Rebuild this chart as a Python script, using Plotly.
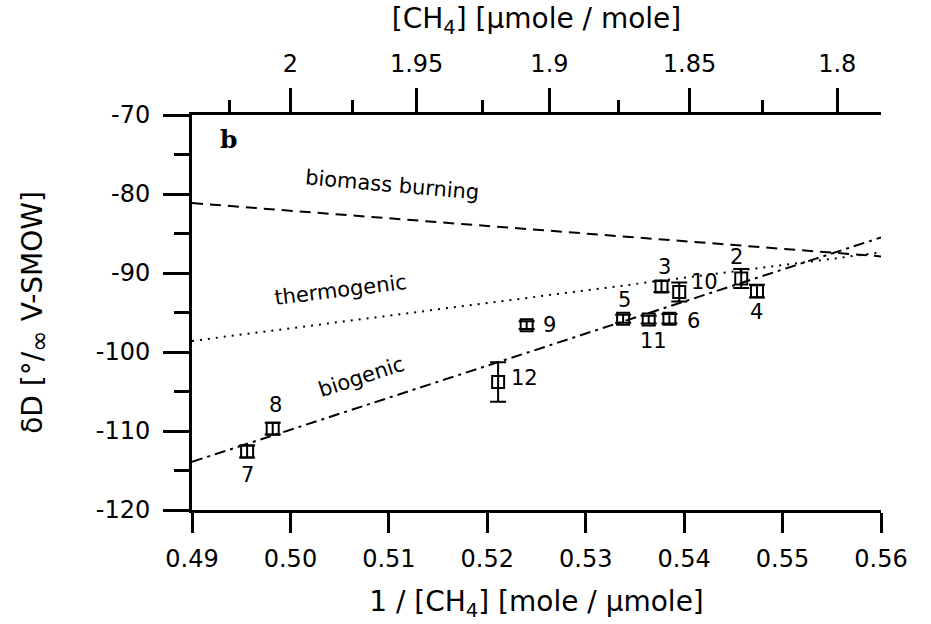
import plotly.graph_objects as go

# ---------------- data ----------------
sample_ids = ["2", "3", "4", "5", "6", "7", "8", "9", "10", "11", "12"]
inv_ch4 = [0.5458, 0.5377, 0.5474, 0.5338, 0.5385, 0.4956, 0.4982, 0.5240, 0.5395, 0.5364, 0.5211]
delta_d = [-90.7, -91.7, -92.3, -95.8, -95.8, -112.6, -109.7, -96.6, -92.4, -95.9, -103.8]
delta_d_err = [1.2, 0.7, 0.8, 0.5, 0.6, 0.75, 0.75, 0.5, 1.2, 0.5, 2.5]

mix_x = [0.49, 0.56]
biomass_line = [-81.15, -87.9]
thermogenic_line = [-98.6, -87.4]
biogenic_line = [-113.9, -85.5]

bottom_ticks = [0.49, 0.50, 0.51, 0.52, 0.53, 0.54, 0.55, 0.56]
bottom_labels = ["0.49", "0.50", "0.51", "0.52", "0.53", "0.54", "0.55", "0.56"]
top_ticks = [2.0, 1.95, 1.9, 1.85, 1.8]
top_labels = ["2", "1.95", "1.9", "1.85", "1.8"]
top_minor = [2.025, 1.975, 1.925, 1.875, 1.825]
y_ticks = [-70, -80, -90, -100, -110, -120]
y_labels = ["-70", "-80", "-90", "-100", "-110", "-120"]
y_minor = [-75, -85, -95, -105, -115]

# label offsets (pixels) of the sample numbers relative to their points
label_dx = [-5, 3, 0, 1, 24, 0, 3, 23, 25, 5, 26]
label_dy = [22, 19, -21, 19, -2, -23, 24, 0, 10, -21, 4]

FONT = "DejaVu Sans"

fig = go.Figure()

fig.add_trace(go.Scatter(x=mix_x, y=biomass_line, mode="lines",
                         line=dict(color="black", width=2, dash="11px,7px"),
                         showlegend=False, hoverinfo="skip"))
fig.add_trace(go.Scatter(x=mix_x, y=thermogenic_line, mode="lines",
                         line=dict(color="black", width=2, dash="2px,6px"),
                         showlegend=False, hoverinfo="skip"))
fig.add_trace(go.Scatter(x=mix_x, y=biogenic_line, mode="lines",
                         line=dict(color="black", width=2, dash="11px,5px,3px,5px"),
                         showlegend=False, hoverinfo="skip"))

fig.add_trace(go.Scatter(
    x=inv_ch4, y=delta_d, mode="markers",
    marker=dict(symbol="square-open", size=12, color="black", line=dict(width=2, color="black")),
    error_y=dict(type="data", array=delta_d_err, color="black", thickness=2, width=8),
    showlegend=False))

# invisible trace so the top axis is drawn
fig.add_trace(go.Scatter(x=mix_x, y=[-120, -120], xaxis="x2", mode="markers",
                         marker=dict(opacity=0), showlegend=False, hoverinfo="skip"))

for sid, xv, yv, dx, dy in zip(sample_ids, inv_ch4, delta_d, label_dx, label_dy):
    fig.add_annotation(x=xv, y=yv, text=sid, showarrow=False, xshift=dx, yshift=dy,
                       font=dict(family=FONT, size=21, color="black"))

fig.add_annotation(x=0.4937, y=-73.1, text="<b>b</b>", showarrow=False,
                   font=dict(family="DejaVu Serif", size=25, color="black"))
fig.add_annotation(x=0.5104, y=-78.8, text="biomass burning", showarrow=False, textangle=5,
                   font=dict(family=FONT, size=21, color="black"))
fig.add_annotation(x=0.5051, y=-92.1, text="thermogenic", showarrow=False, textangle=-7,
                   font=dict(family=FONT, size=21, color="black"))
fig.add_annotation(x=0.5072, y=-103.2, text="biogenic", showarrow=False, textangle=-18,
                   font=dict(family=FONT, size=21, color="black"))

axis_common = dict(showgrid=False, zeroline=False, showline=True, linewidth=3, linecolor="black",
                   ticks="outside", tickwidth=2.5, tickcolor="black",
                   tickfont=dict(family=FONT, size=24, color="black"))

fig.update_layout(
    width=931, height=624,
    margin=dict(l=192, r=50, t=115, b=110),
    paper_bgcolor="white", plot_bgcolor="white",
    xaxis=dict(range=[0.49, 0.56], tickmode="array", tickvals=bottom_ticks, ticktext=bottom_labels,
               ticklen=20, ticklabelstandoff=5,
               title=dict(text="1 / [CH<sub>4</sub>] [mole / µmole]", standoff=20,
                          font=dict(family=FONT, size=28, color="black")),
               **axis_common),
    xaxis2=dict(range=[0.49, 0.56], overlaying="x", side="top", anchor="y",
                tickmode="array", tickvals=[1 / c for c in top_ticks], ticktext=top_labels,
                ticklen=24, ticklabelstandoff=6,
                minor=dict(tickmode="array", tickvals=[1 / c for c in top_minor], ticklen=12,
                           ticks="outside", tickwidth=2.5, tickcolor="black"),
                title=dict(text="[CH<sub>4</sub>] [µmole / mole]", standoff=14,
                           font=dict(family=FONT, size=28, color="black")),
                **axis_common),
    yaxis=dict(range=[-120, -70], tickmode="array", tickvals=y_ticks, ticktext=y_labels,
               ticklen=26, ticklabelstandoff=8,
               minor=dict(tickmode="array", tickvals=y_minor, ticklen=15,
                          ticks="outside", tickwidth=2.5, tickcolor="black"),
               title=dict(text="δD [°/<sub><span style='font-size:26px'>∞</span></sub> V-SMOW]",
                          standoff=45, font=dict(family=FONT, size=28, color="black")),
               **axis_common),
)

fig.write_html("out.html")
